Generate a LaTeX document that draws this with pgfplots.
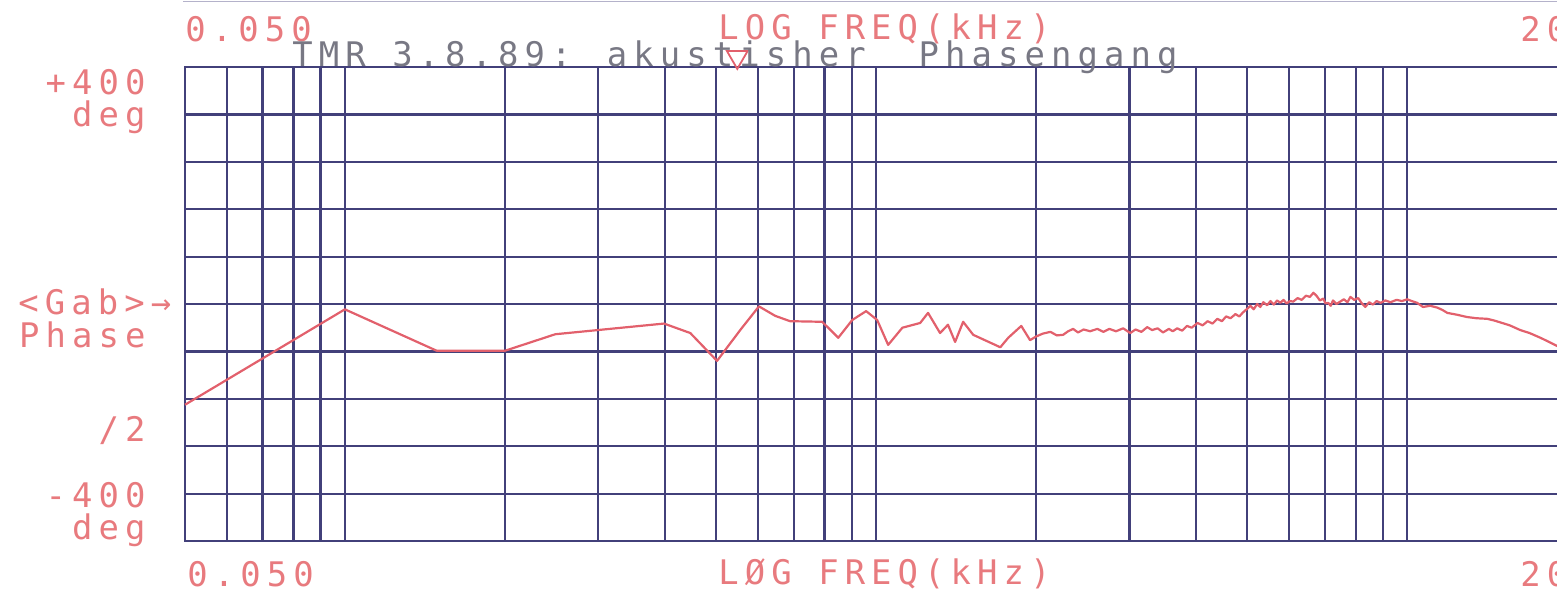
\documentclass[border=0pt]{standalone}
\usepackage{pgfplots}
\pgfplotsset{compat=1.18}
\usepackage{fontspec}
\newfontfamily\plotfont[LetterSpace=18]{DejaVu Sans Mono}

\definecolor{gridblue}{RGB}{66,64,122}
\definecolor{penred}{RGB}{226,96,108}
\definecolor{labelpink}{RGB}{232,122,126}
\definecolor{titlegray}{RGB}{120,120,132}

\begin{document}
\begin{tikzpicture}
\begin{axis}[
    name=ax,
    scale only axis, width=691bp, height=237bp,
    xmode=log, xmin=0.05, xmax=20,
    ymin=-400, ymax=400,
    xtick={0.06,0.07,0.08,0.09,0.1,0.2,0.3,0.4,0.5,0.6,0.7,0.8,0.9,1,2,3,4,5,6,7,8,9,10},
    ytick={-320,-240,-160,-80,0,80,160,240,320},
    xticklabels={}, yticklabels={},
    major tick length=0pt,
    grid=major,
    major grid style={gridblue, line width=1.1bp},
    axis line style={gridblue, line width=1.1bp},
    clip=false,
]
% phase curve (kHz, deg)
\addplot[penred, line width=1.1bp, no marks, line join=round] coordinates {
    (0.05,-170) (0.1,-9) (0.149,-79) (0.2,-79) (0.249,-51) (0.399,-33)
    (0.447,-49) (0.502,-96) (0.555,-44) (0.602,-4) (0.646,-20) (0.689,-29)
    (0.792,-30) (0.849,-57) (0.902,-27) (0.958,-12) (1.005,-27) (1.054,-69)
    (1.121,-40) (1.211,-32) (1.253,-15) (1.320,-49) (1.366,-35) (1.409,-64)
    (1.459,-30) (1.524,-52) (1.714,-73) (1.774,-57) (1.877,-37) (1.95,-61)
    (2.00,-55) (2.06,-50) (2.13,-47) (2.19,-53) (2.25,-52) (2.30,-46)
    (2.35,-42) (2.40,-48) (2.46,-43) (2.53,-46) (2.61,-42) (2.68,-47)
    (2.75,-42) (2.83,-46) (2.92,-41) (3.01,-49) (3.08,-43) (3.16,-47)
    (3.24,-39) (3.31,-44) (3.39,-41) (3.47,-48) (3.56,-42) (3.62,-46)
    (3.69,-41) (3.77,-45) (3.85,-37) (3.93,-40) (4.03,-32) (4.12,-36)
    (4.21,-29) (4.30,-33) (4.39,-25) (4.48,-29) (4.56,-21) (4.65,-24)
    (4.75,-17) (4.83,-21) (4.91,-14) (5.00,-8) (5.07,-3) (5.14,-9)
    (5.22,0) (5.29,-5) (5.36,3) (5.45,-2) (5.53,5) (5.61,-1)
    (5.69,6) (5.77,2) (5.85,7) (5.93,1) (6.02,5) (6.10,4)
    (6.22,10) (6.33,7) (6.45,14) (6.56,12) (6.66,19) (6.75,14)
    (6.85,6) (6.95,9) (7.02,1) (7.10,2) (7.18,-3) (7.25,6)
    (7.36,0) (7.48,4) (7.60,8) (7.72,3) (7.82,12) (7.95,7)
    (8.09,10) (8.20,2) (8.34,-5) (8.48,3) (8.62,-1) (8.76,5)
    (8.91,2) (9.10,6) (9.30,3) (9.55,7) (9.78,5) (10.0,8)
    (10.2,5) (10.44,2) (10.71,-5) (11.05,-3) (11.39,-6) (11.65,-10)
    (11.90,-15) (12.4,-18) (12.97,-22) (13.5,-24) (14.15,-25) (14.6,-28)
    (14.97,-31) (15.6,-36) (16.33,-44) (17.0,-49) (17.82,-57) (18.5,-64)
    (19.18,-71) (20,-76)
};
% cursor marker
\addplot[penred, line width=0.9bp, only marks, mark=triangle, mark size=6bp,
    mark options={rotate=180, solid, fill=none}] coordinates {(0.548,417)};
\end{axis}

\begin{scope}[shift={(ax.south west)}, xshift=-92.5bp, yshift=270.5bp, x=0.5bp, y=-0.5bp]
\pgfresetboundingbox
\path[use as bounding box] (0,0) rectangle (1557,598);
\draw[gridblue!40, line width=0.8bp] (183,1.5) -- (1557,1.5);
\tikzset{lab/.style={inner sep=0pt, text=labelpink, font=\plotfont\fontsize{17}{20}\selectfont}}
\node[lab, anchor=base west] at (185,42) {0.050};
\node[lab, anchor=base west] at (718,40) {LOG FREQ(kHz)};
\node[lab, anchor=base west] at (1520,42) {20};
\node[lab, anchor=base west] at (187,587) {0.050};
\node[lab, anchor=base west] at (718,585) {LØG FREQ(kHz)};
\node[lab, anchor=base west] at (1520,587) {20};
\node[lab, anchor=base east] at (146,95) {+400};
\node[lab, anchor=base east] at (146,127) {deg};
\node[lab, anchor=base west] at (18,315) {<Gab>→};
\node[lab, anchor=base east] at (146,348) {Phase};
\node[lab, anchor=base east] at (146,442) {/2};
\node[lab, anchor=base east] at (146,508) {-400};
\node[lab, anchor=base east] at (146,540) {deg};
\node[lab, text=titlegray, anchor=base west] at (292,67) {TMR 3.8.89: akustisher\ \ Phasengang};
\end{scope}
\end{tikzpicture}
\end{document}
